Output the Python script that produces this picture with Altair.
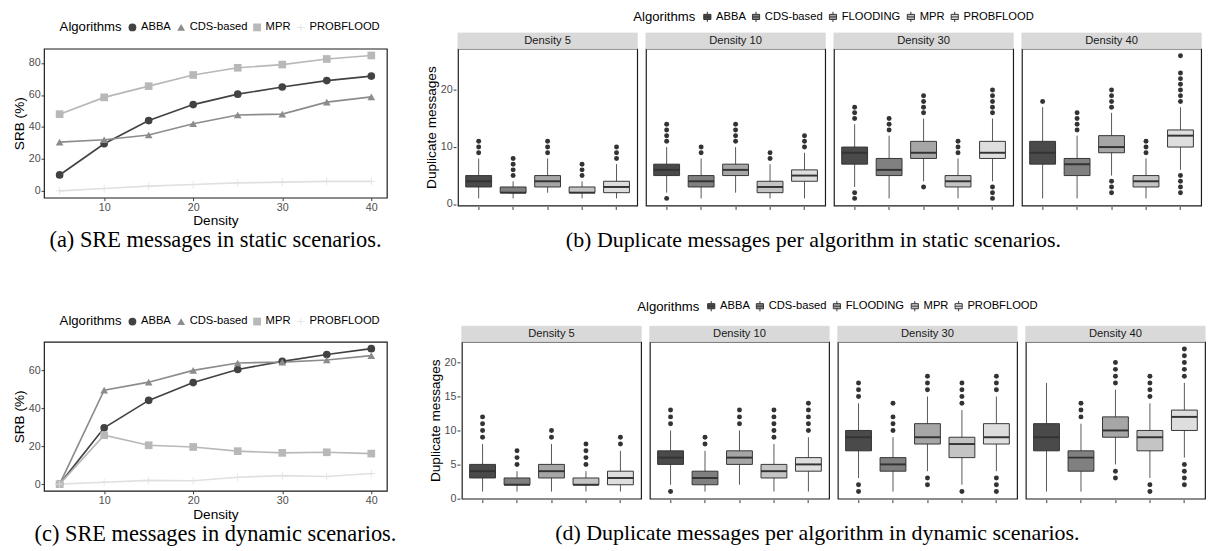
import altair as alt
import pandas as pd

# ---------------- line charts (a), (c) ----------------
density = [5, 10, 15, 20, 25, 30, 35, 40]
line_algorithms = ["ABBA", "CDS-based", "MPR", "PROBFLOOD"]

static_abba = [10, 29.5, 44, 54, 60.5, 65, 69, 71.8]
static_cds = [30.5, 32, 35, 42, 47.5, 48, 55.5, 58.8]
static_mpr = [48, 58.5, 65.5, 72.5, 77, 79, 82.5, 84.7]
static_prob = [0, 1.5, 3, 4, 5, 5.5, 6, 6]

dynamic_abba = [0, 29.7, 44.2, 53.6, 60.5, 64.8, 68.4, 71.5]
dynamic_cds = [0, 49.6, 53.8, 60, 63.9, 64.4, 65.5, 67.8]
dynamic_mpr = [0, 25.8, 20.5, 19.6, 17.4, 16.5, 16.8, 16.1]
dynamic_prob = [0, 1.0, 2.0, 1.8, 3.6, 4.5, 4.0, 5.6]

line_colors = ["#424242", "#8c8c8c", "#b8b8b8", "#e0e0e0"]
PLUS = "M-1,-0.1H1V0.1H-1Z M-0.1,-1H0.1V1H-0.1Z"
line_shapes = ["circle", "triangle-up", "square", PLUS]

# ---------------- boxplots (b), (d) ----------------
box_algorithms = ["ABBA", "CDS-based", "FLOODING", "MPR", "PROBFLOOD"]
box_densities = ["Density 5", "Density 10", "Density 30", "Density 40"]
box_fills = ["#4a4a4a", "#808080", "#a6a6a6", "#c4c4c4", "#dedede"]

static_lower = [[1, 1, 2, 1, 1], [2, 1, 2, 1, 1], [3, 1, 4, 1, 4], [1, 1, 5, 1, 6]]
static_q1 = [[3, 2, 3, 2, 2], [5, 3, 5, 2, 4], [7, 5, 8, 3, 8], [7, 5, 9, 3, 10]]
static_median = [[4, 2, 4, 2, 3], [6, 4, 6, 3, 5], [9, 6, 9, 4, 9], [9, 7, 10, 4, 12]]
static_q3 = [[5, 3, 5, 3, 4], [7, 5, 7, 4, 6], [10, 8, 11, 5, 11], [11, 8, 12, 5, 13]]
static_upper = [[8, 4, 8, 4, 7], [10, 8, 10, 7, 9], [14, 12, 15, 8, 15], [17, 12, 16, 8, 17]]
static_outliers = [
    [[9, 10, 11], [5, 6, 7, 8], [9, 10, 11], [5, 6, 7], [8, 9, 10]],
    [[1, 11, 12, 13, 14], [9, 10], [11, 12, 13, 14], [8, 9], [10, 11, 12]],
    [[1, 2, 15, 16, 17], [13, 14, 15], [3, 16, 17, 18, 19], [9, 10, 11], [1, 2, 3, 16, 17, 18, 19, 20]],
    [[18], [13, 14, 15, 16], [2, 3, 4, 17, 18, 19, 20], [9, 10, 11], [2, 3, 4, 5, 18, 19, 20, 21, 22, 23, 26]],
]

dynamic_lower = [[1, 1, 1, 1, 1], [2, 1, 2, 1, 1], [3, 1, 4, 2, 4], [1, 1, 5, 3, 6]]
dynamic_q1 = [[3, 2, 3, 2, 2], [5, 2, 5, 3, 4], [7, 4, 8, 6, 8], [7, 4, 9, 7, 10]]
dynamic_median = [[4, 2, 4, 2, 3], [6, 3, 6, 4, 5], [9, 5, 9, 8, 9], [9, 6, 10, 9, 12]]
dynamic_q3 = [[5, 3, 5, 3, 4], [7, 4, 7, 5, 6], [10, 6, 11, 9, 11], [11, 7, 12, 10, 13]]
dynamic_upper = [[8, 4, 8, 4, 7], [10, 7, 10, 8, 9], [14, 9, 15, 13, 15], [17, 11, 16, 14, 17]]
dynamic_outliers = [
    [[9, 10, 11, 12], [5, 6, 7], [9, 10], [5, 6, 7, 8], [8, 9]],
    [[1, 11, 12, 13], [8, 9], [11, 12, 13], [9, 10, 11, 12, 13], [10, 11, 12, 13, 14]],
    [[1, 2, 15, 16, 17], [10, 11, 12, 14], [2, 3, 16, 17, 18], [1, 14, 15, 16, 17], [1, 2, 3, 16, 17, 18]],
    [[], [12, 13, 14], [3, 4, 17, 18, 19, 20], [1, 2, 15, 16, 17, 18], [2, 3, 4, 5, 18, 19, 20, 21, 22]],
]

captions = [
    "(a) SRE messages in static scenarios.",
    "(b) Duplicate messages per algorithm in static scenarios.",
    "(c) SRE messages in dynamic scenarios.",
    "(d) Duplicate messages per algorithm in dynamic scenarios.",
]

SANS = "Liberation Sans"
SERIF = "Liberation Serif"
LW, LH = 352, 153
FW, FH = 184, 161
STRIP = 16
BOX_PATH = "M-0.7,-0.5H0.7V0.5H-0.7Z M-0.7,0H0.7 M0,-1V-0.5 M0,0.5V1"


def expand(lo, hi, f=0.05):
    r = hi - lo
    return [lo - f * r, hi + f * r]


def caption_title(text, offset, frame, size):
    return alt.TitleParams(text=text, orient="bottom", font=SERIF, fontSize=size,
                           fontWeight="normal", color="black", offset=offset,
                           anchor="middle", frame=frame)


def line_chart(series, caption, yticks, legend_y):
    rows = []
    for algo, vals in zip(line_algorithms, series):
        for d, v in zip(density, vals):
            rows.append({"Density": d, "SRB": v, "Algorithms": algo})
    df = pd.DataFrame(rows)
    xdom = expand(min(density), max(density))
    ydom = expand(df.SRB.min(), df.SRB.max())
    legend = alt.Legend(orient="none", legendX=16, legendY=legend_y, direction="horizontal",
                        columns=4, titleOrient="left", title="Algorithms",
                        titleFont=SANS, titleFontSize=13.5, titleFontWeight="normal",
                        titleColor="black", titlePadding=5, labelFont=SANS,
                        labelFontSize=11.5, labelColor="black", labelOffset=3,
                        columnPadding=4, symbolSize=64, symbolStrokeWidth=0)
    color = alt.Color("Algorithms:N", scale=alt.Scale(domain=line_algorithms, range=line_colors),
                      legend=legend)
    shape = alt.Shape("Algorithms:N", scale=alt.Scale(domain=line_algorithms, range=line_shapes),
                      legend=legend)
    base = alt.Chart(df).encode(
        x=alt.X("Density:Q", scale=alt.Scale(domain=xdom, nice=False, zero=False),
                axis=alt.Axis(values=[10, 20, 30, 40], title="Density")),
        y=alt.Y("SRB:Q", scale=alt.Scale(domain=ydom, nice=False, zero=False),
                axis=alt.Axis(values=yticks, title="SRB (%)")),
        color=color,
    )
    lines = base.mark_line(strokeWidth=1.7)
    points = base.mark_point(filled=True, opacity=1, size=62).encode(shape=shape)
    return alt.layer(lines, points).properties(
        width=LW, height=LH, title=caption_title(caption, 2, "group", 23))


def box_chart(lower, q1, median, q3, upper, outliers, caption, yticks, legend_y):
    rows = []
    allvals = []
    for i, dens in enumerate(box_densities):
        rows.append({"kind": "strip", "facet": dens, "Algorithms": box_algorithms[0]})
        for j, algo in enumerate(box_algorithms):
            rows.append({"kind": "box", "facet": dens, "Algorithms": algo,
                         "lower": lower[i][j], "q1": q1[i][j], "median": median[i][j],
                         "q3": q3[i][j], "upper": upper[i][j]})
            allvals += [lower[i][j], upper[i][j]]
            for v in outliers[i][j]:
                rows.append({"kind": "out", "facet": dens, "Algorithms": algo, "value": v})
                allvals.append(v)
    df = pd.DataFrame(rows)
    ydom = expand(min(allvals), max(allvals))
    yscale = alt.Scale(domain=ydom, nice=False, zero=False)
    xenc = alt.X("Algorithms:N", sort=box_algorithms,
                 scale=alt.Scale(paddingInner=0, paddingOuter=0.1),
                 axis=alt.Axis(labels=False, title=None, ticks=True, domain=False,
                               tickColor="#333333", tickSize=3))
    legend = alt.Legend(orient="none", legendX=180, legendY=legend_y, direction="horizontal",
                        columns=5, titleOrient="left", title="Algorithms",
                        titleFont=SANS, titleFontSize=13.5, titleFontWeight="normal",
                        titleColor="black", titlePadding=6, labelFont=SANS,
                        labelFontSize=11.5, labelColor="black", labelOffset=3,
                        columnPadding=4, symbolType=BOX_PATH, symbolSize=110,
                        symbolStrokeColor="#333333", symbolStrokeWidth=1)
    base = alt.Chart()
    strip = base.mark_rect(fill="#d9d9d9", stroke="#d9d9d9").encode(
        x=alt.value(0), x2=alt.value(FW), y=alt.value(-STRIP), y2=alt.value(0)
    ).transform_filter(alt.datum.kind == "strip")
    strip_text = base.mark_text(font=SANS, fontSize=11.5, color="#1a1a1a", baseline="middle").encode(
        text="facet:N", x=alt.value(FW / 2), y=alt.value(-STRIP / 2)
    ).transform_filter(alt.datum.kind == "strip")
    whisk = base.mark_rule(color="#555555", strokeWidth=1).encode(
        x=xenc,
        y=alt.Y("lower:Q", scale=yscale, axis=alt.Axis(values=yticks, title="Duplicate messages")),
        y2="upper:Q",
    ).transform_filter(alt.datum.kind == "box")
    box = base.mark_bar(width=alt.RelativeBandSize(0.75), stroke="#333333", strokeWidth=1,
                        opacity=1).encode(
        x=xenc, y=alt.Y("q1:Q", scale=yscale), y2="q3:Q",
        fill=alt.Fill("Algorithms:N", scale=alt.Scale(domain=box_algorithms, range=box_fills),
                      legend=legend),
    ).transform_filter(alt.datum.kind == "box")
    med = base.mark_tick(color="#333333", thickness=2, size=26.5, opacity=1).encode(
        x=xenc, y=alt.Y("median:Q", scale=yscale)
    ).transform_filter(alt.datum.kind == "box")
    outl = base.mark_circle(color="#333333", size=26, opacity=1).encode(
        x=xenc, y=alt.Y("value:Q", scale=yscale)
    ).transform_filter(alt.datum.kind == "out")
    layered = alt.layer(whisk, box, med, outl, strip, strip_text, data=df).properties(
        width=FW, height=FH)
    return layered.facet(
        column=alt.Column("facet:N", sort=box_densities, header=alt.Header(labels=False, title=None)),
        spacing=5,
    ).properties(title=caption_title(caption, 20, "bounds", 22.5))


chart_a = line_chart([static_abba, static_cds, static_mpr, static_prob], captions[0],
                     [0, 20, 40, 60, 80], -28)
chart_c = line_chart([dynamic_abba, dynamic_cds, dynamic_mpr, dynamic_prob], captions[2],
                     [0, 20, 40, 60], -27)
chart_b = box_chart(static_lower, static_q1, static_median, static_q3, static_upper,
                    static_outliers, captions[1], [0, 10, 20], -39)
chart_d = box_chart(dynamic_lower, dynamic_q1, dynamic_median, dynamic_q3, dynamic_upper,
                    dynamic_outliers, captions[3], [0, 5, 10, 15, 20], -43)

res = dict(color="independent", shape="independent", fill="independent",
           y="independent", x="independent")
row1 = alt.hconcat(chart_a, chart_b, spacing=37).resolve_scale(**res)
row2 = alt.hconcat(chart_c, chart_d, spacing=31).resolve_scale(**res)

chart = alt.vconcat(row1, row2, spacing=48).resolve_scale(**res).properties(
    padding={"left": 4, "top": -4.5, "right": 0, "bottom": 0}
).configure_view(
    stroke="#1a1a1a", strokeWidth=1.2
).configure_axis(
    grid=False, domain=False, labelFont=SANS, labelFontSize=11, labelColor="#4d4d4d",
    titleFont=SANS, titleFontSize=14, titleFontWeight="normal", titleColor="black",
    tickColor="#333333", tickSize=3, labelPadding=1, titlePadding=2,
).configure_legend(
    labelFont=SANS, titleFont=SANS
)

chart.save("out.html", embed_options={"renderer": "svg", "actions": False})
